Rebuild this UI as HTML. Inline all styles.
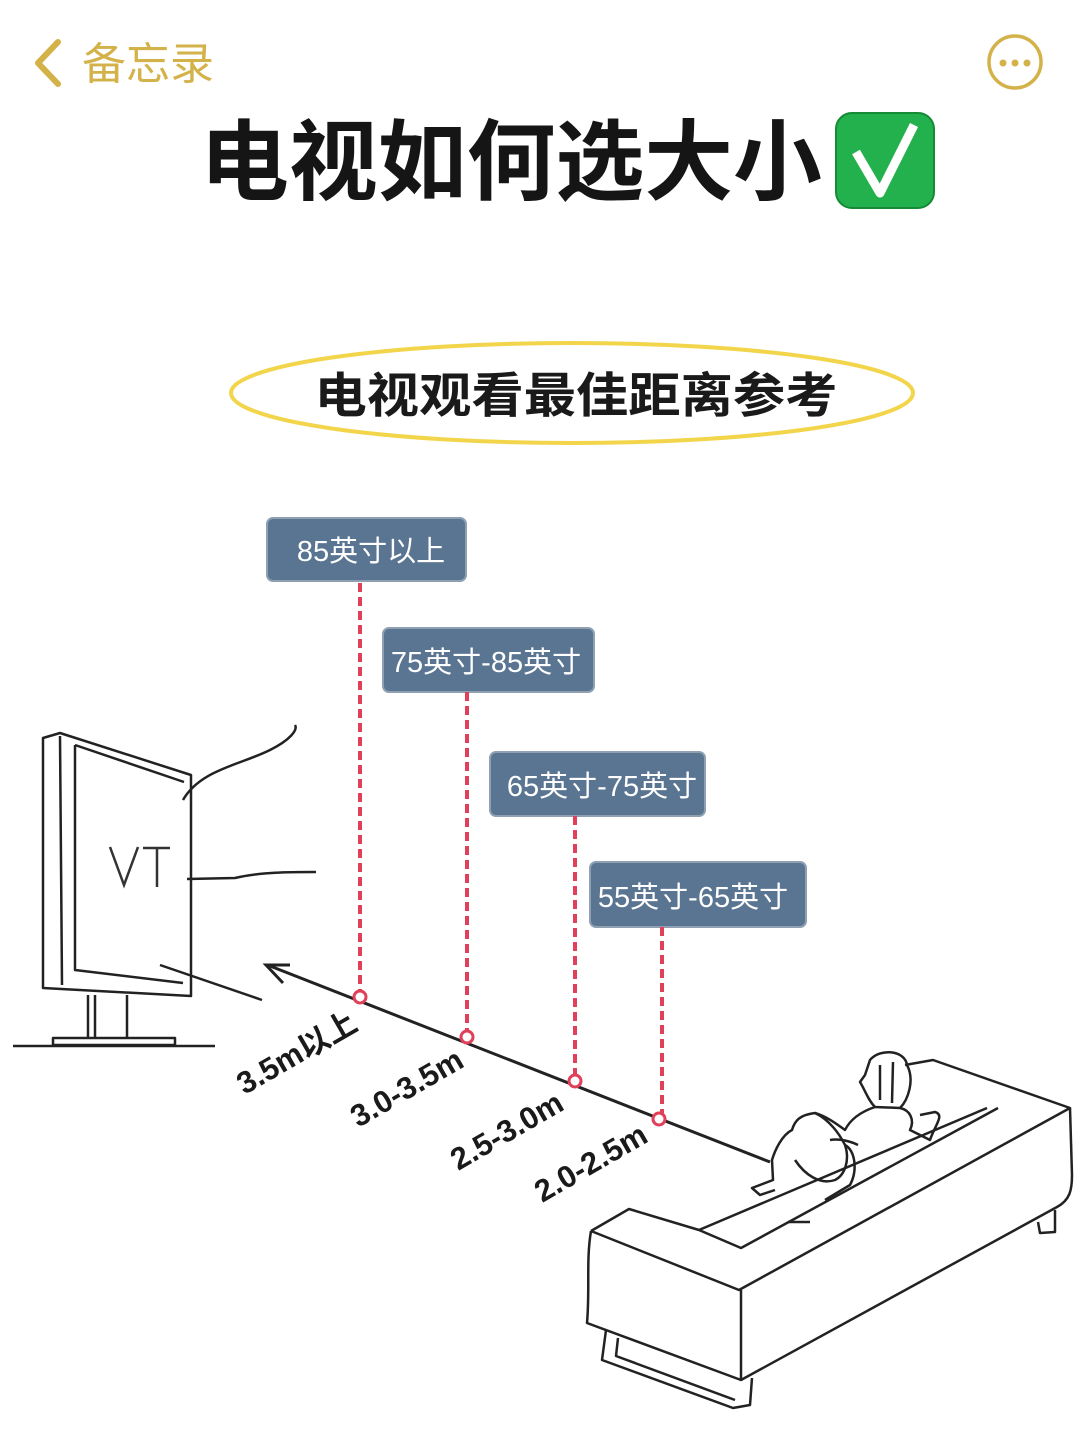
<!DOCTYPE html>
<html><head><meta charset="utf-8"><style>
html,body{margin:0;padding:0;background:#fff;}
svg{display:block;}
</style></head><body>
<svg width="1080" height="1440" viewBox="0 0 1080 1440" xmlns="http://www.w3.org/2000/svg" font-family="'Liberation Sans','Noto Sans CJK SC',sans-serif">
<rect width="1080" height="1440" fill="#fff"/>
<!-- header -->
<polyline points="58,42 38,63 58,84" fill="none" stroke="#d4b24a" stroke-width="6" stroke-linecap="round" stroke-linejoin="round"/>
<text x="82" y="79" font-size="44" fill="#d4b24a">备忘录</text>
<circle cx="1015" cy="62" r="26" fill="none" stroke="#d4b24a" stroke-width="3.5"/>
<circle cx="1003" cy="63" r="3.5" fill="#d4b24a"/><circle cx="1015" cy="63" r="3.5" fill="#d4b24a"/><circle cx="1027" cy="63" r="3.5" fill="#d4b24a"/>
<!-- title -->
<text x="200" y="193" font-size="88" font-weight="bold" fill="#151515" textLength="622" lengthAdjust="spacingAndGlyphs">电视如何选大小</text>
<rect x="836" y="113" width="98" height="95" rx="16" fill="#22b14c" stroke="#168a35" stroke-width="2"/>
<polyline points="856,152 880,193 914,125" fill="none" stroke="#fff" stroke-width="9" stroke-linejoin="round"/>
<!-- ellipse -->
<ellipse cx="572" cy="393" rx="341" ry="50" fill="none" stroke="#f2d54a" stroke-width="4"/>
<text x="576" y="412" font-size="48" font-weight="bold" fill="#1a1a1a" text-anchor="middle" textLength="523" lengthAdjust="spacingAndGlyphs">电视观看最佳距离参考</text>
<!-- label boxes -->
<g fill="#5a7591" stroke="#8ea0b2" stroke-width="2">
<rect x="267" y="518" width="199" height="63" rx="6"/>
<rect x="383" y="628" width="211" height="64" rx="6"/>
<rect x="490" y="752" width="215" height="64" rx="6"/>
<rect x="590" y="862" width="216" height="65" rx="6"/>
</g>
<g fill="#fff" font-size="29" text-anchor="middle">
<text x="371" y="561">85英寸以上</text>
<text x="486" y="672">75英寸-85英寸</text>
<text x="602" y="796">65英寸-75英寸</text>
<text x="693" y="907">55英寸-65英寸</text>
</g>
<!-- dashed lines -->
<g stroke="#e0405a" stroke-width="4" stroke-dasharray="9,5">
<line x1="360" y1="583" x2="360" y2="991"/>
<line x1="467" y1="692" x2="467" y2="1031"/>
<line x1="575" y1="816" x2="575" y2="1075"/>
<line x1="662" y1="927" x2="662" y2="1114"/>
</g>
<!-- main arrow -->
<line x1="270" y1="966" x2="770" y2="1162" stroke="#222" stroke-width="3"/>
<polyline points="290,965 266,965 283,983" fill="none" stroke="#222" stroke-width="3"/>
<g fill="#fff" stroke="#e0405a" stroke-width="3">
<circle cx="360" cy="997" r="6"/><circle cx="467" cy="1037" r="6"/><circle cx="575" cy="1081" r="6"/><circle cx="659" cy="1119" r="6"/>
</g>
<g font-size="31" font-weight="bold" fill="#1a1a1a" text-anchor="middle">
<text transform="translate(302,1062) rotate(-30)">3.5m以上</text>
<text transform="translate(412,1097) rotate(-30)">3.0-3.5m</text>
<text transform="translate(512,1140) rotate(-30)">2.5-3.0m</text>
<text transform="translate(596,1172) rotate(-30)">2.0-2.5m</text>
</g>
<!-- TV -->
<g fill="none" stroke="#222" stroke-width="2.5" stroke-linejoin="round">
<path d="M43,738 L60,733 L191,775 L191,996 L43,988 Z"/>
<line x1="60" y1="736" x2="62" y2="985"/>
<path d="M75,745 L184,782 M75,745 L75,970 L183,983"/>
<line x1="88" y1="995" x2="88" y2="1038"/><line x1="95" y1="995" x2="95" y2="1038"/><line x1="127" y1="995" x2="127" y2="1038"/>
<rect x="53" y="1038" width="122" height="7"/>
<line x1="13" y1="1046" x2="215" y2="1046"/>
<path d="M183,800 C200,770 240,765 270,750 C290,740 298,730 295,725"/>
<path d="M187,879 L235,878 C260,872 290,872 316,872"/>
<line x1="160" y1="965" x2="262" y2="1000"/>
</g>
<g fill="none" stroke="#333" stroke-width="2.5">
<polyline points="110,847 124,885 138,847"/>
<line x1="143" y1="848" x2="170" y2="848"/><line x1="157" y1="848" x2="157" y2="887"/>
</g>
<!-- sofa -->
<g fill="none" stroke="#222" stroke-width="2.5" stroke-linejoin="round">
<path d="M591,1231 L629,1209 L699,1230 L741,1248 L998,1108"/>
<path d="M591,1231 L739,1290 L1070,1108 L933,1060 L905,1065"/>
<path d="M699,1230 L987,1108"/>
<path d="M591,1231 C586,1260 590,1290 587,1323 L741,1380 L741,1290"/>
<path d="M741,1380 L1057,1207 C1070,1200 1072,1190 1072,1175 L1070,1108"/>
<path d="M606,1330 L602,1360 L733,1408 L750,1405 L752,1378"/>
<path d="M618,1338 L616,1356 L735,1400"/>
<path d="M1038,1222 L1040,1233 L1055,1232 L1055,1210"/>
<path d="M788,1222 L810,1222"/>
<!-- person -->
<path d="M870,1060 C880,1048 905,1050 907,1065 C915,1080 908,1100 900,1108 L875,1107 C868,1100 865,1090 860,1082 L865,1075 Z"/>
<path d="M880,1065 L880,1100 M893,1062 L892,1103"/>
<path d="M900,1108 C910,1110 915,1120 910,1130 L930,1140 C935,1125 945,1115 935,1112 L920,1115"/>
<path d="M875,1107 C860,1112 850,1120 845,1130 C838,1125 828,1117 815,1113 C800,1115 795,1120 792,1130 C782,1135 775,1150 772,1160 L773,1180 L752,1188 L760,1195 L775,1190"/>
<path d="M815,1113 C830,1120 840,1135 845,1145 C850,1160 845,1175 835,1180 C820,1185 805,1175 795,1160"/>
<path d="M845,1145 C855,1150 858,1170 850,1185 L825,1200"/>
<path d="M830,1140 C840,1138 852,1142 858,1145"/>
</g>
</svg>
</body></html>
